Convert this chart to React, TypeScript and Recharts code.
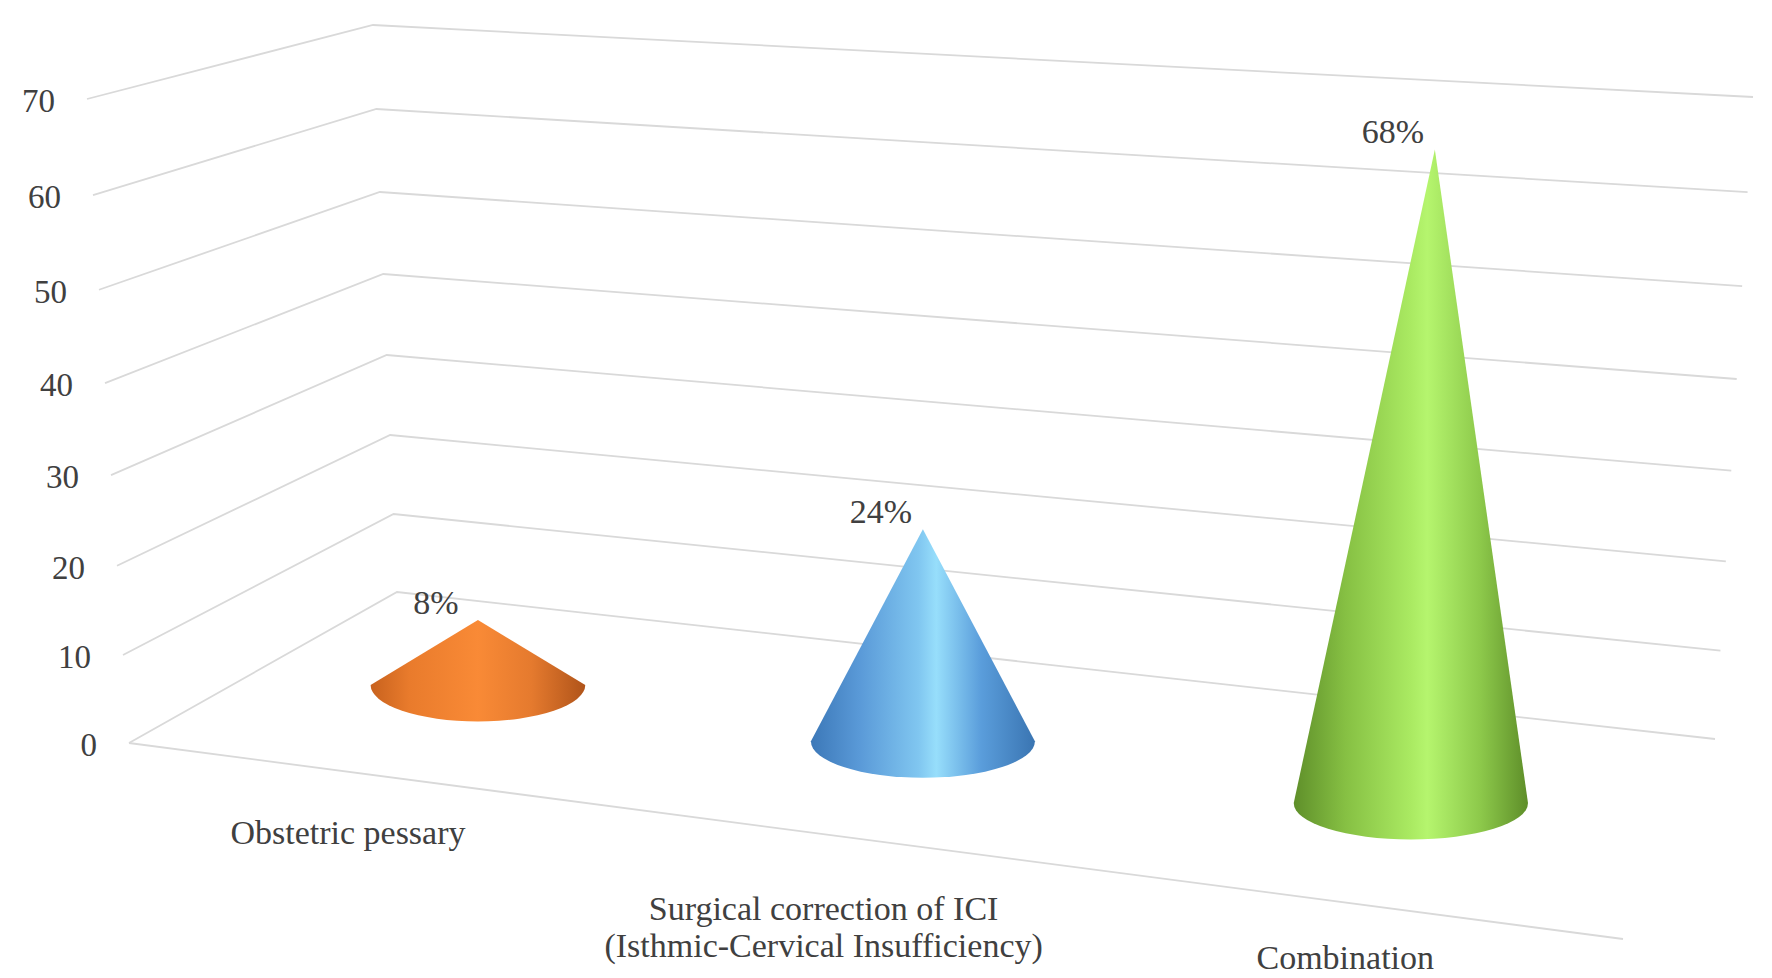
import { ComposedChart, Bar, XAxis, YAxis } from 'recharts';

const categories = [
  'Obstetric pessary',
  'Surgical correction of ICI (Isthmic-Cervical Insufficiency)',
  'Combination',
];
const shares = [8, 24, 68];
const yTicks = [0, 10, 20, 30, 40, 50, 60, 70];

const coneFills = ['url(#coneOrange)', 'url(#coneBlue)', 'url(#coneGreen)'];

const data = categories.map((name, i) => ({ name, value: shares[i] }));

const W = 1772;
const H = 978;
const TOP = 25;
const BOTTOM = 592;
const MARGIN = { top: TOP, right: 128, bottom: 0, left: 0 };
const AXIS_W = 245;
const AXIS_H = H - BOTTOM;
const FONT = '"Liberation Serif", "Times New Roman", serif';
const TEXT = '#404040';
const GRID = '#d9d9d9';

// flat band centre -> perspective screen x
const warpX = (x: number) => {
  const t = (x - 478.2) / 466.33;
  return (478 + 404.3 * t) / (1 - 0.04406 * t);
};

const WallTick = (props: any) => {
  const { y, payload } = props;
  const d = (BOTTOM - y) / (BOTTOM - TOP);
  const lx = 129 - 42 * d;
  const ly = 743 - 611 * d - 33 * d * d;
  const cx = 397 - 24 * d;
  const cy = 592 - 542.5 * d - 24.5 * d * d;
  const rx = 1715 + 38 * d;
  const ry = 739 - 614 * d - 28 * d * d;
  return (
    <g>
      <polyline
        points={`${lx},${ly} ${cx},${cy} ${rx},${ry}`}
        fill="none"
        stroke={GRID}
        strokeWidth={1.8}
      />
      {payload.value === 0 && (
        <line x1={lx} y1={ly} x2={1623} y2={939} stroke={GRID} strokeWidth={1.8} />
      )}
      <text
        x={lx - 32}
        y={ly + 13}
        textAnchor="end"
        fontSize={33}
        fontFamily={FONT}
        fill={TEXT}
      >
        {payload.value}
      </text>
    </g>
  );
};

const CategoryTick = (props: any) => {
  const { x, payload } = props;
  const cx = warpX(x);
  const lx = cx - 130 + 0.069 * (cx - 478);
  const base = 833 + 0.1248 * (lx - 346);
  const lines = String(payload.value).split(/ (?=\()/);
  const first = base + (lines.length - 1) * 16;
  return (
    <text textAnchor="middle" fontSize={34} fontFamily={FONT} fill={TEXT}>
      {lines.map((l, i) => (
        <tspan key={i} x={lx} y={first + i * 37 + 11}>
          {l}
        </tspan>
      ))}
    </text>
  );
};

const Cone = (props: any) => {
  const { x, width, height, index, payload } = props;
  const cx = warpX(x + width / 2);
  const baseY = 685 + 0.1265 * (cx - 478);
  const k = (8.83 + 0.0016 * (cx - 923)) / ((BOTTOM - TOP) / 70);
  const h = Math.abs(height) * k;
  const rx = 112 + 0.0105 * (cx - 923);
  const ry = 36.5;
  const ax = cx + 24 * Math.max(0, (cx - 923) / 488);
  const ay = baseY - h;
  return (
    <g>
      <path
        d={`M${cx - rx},${baseY} L${ax},${ay} L${cx + rx},${baseY} A${rx},${ry} 0 0 1 ${cx - rx},${baseY} Z`}
        fill={coneFills[index]}
      />
      <text
        x={ax - 42}
        y={ay - 6}
        textAnchor="middle"
        fontSize={34}
        fontFamily={FONT}
        fill={TEXT}
      >
        {payload.value}%
      </text>
    </g>
  );
};

const App = () => {
  return (
    <div style={{ position: 'absolute', left: 0, top: 0, width: W, height: H, background: '#fff' }}>
      <div style={{ position: 'absolute', left: 0, top: 0 }}>
        <ComposedChart width={W} height={H} data={data} margin={MARGIN}>
          <XAxis
            dataKey="name"
            height={AXIS_H}
            axisLine={false}
            tickLine={false}
            interval={0}
            tick={(p: any) => <CategoryTick {...p} />}
          />
          <YAxis
            type="number"
            domain={[0, 70]}
            ticks={yTicks}
            width={AXIS_W}
            axisLine={false}
            tickLine={false}
            tick={(p: any) => <WallTick {...p} />}
          />
          <Bar dataKey="value" fill="none" isAnimationActive={false} />
        </ComposedChart>
      </div>
      <div style={{ position: 'absolute', left: 0, top: 0 }}>
        <ComposedChart width={W} height={H} data={data} margin={MARGIN}>
          <defs>
            <linearGradient id="coneOrange" x1="0" y1="0" x2="1" y2="0">
              <stop offset="0" stopColor="#c8621e" />
              <stop offset="0.18" stopColor="#e97b2c" />
              <stop offset="0.5" stopColor="#f98a36" />
              <stop offset="0.75" stopColor="#e57a2e" />
              <stop offset="1" stopColor="#b0541a" />
            </linearGradient>
            <linearGradient id="coneBlue" x1="0" y1="0" x2="1" y2="0">
              <stop offset="0" stopColor="#3c78b8" />
              <stop offset="0.22" stopColor="#5a9ad8" />
              <stop offset="0.48" stopColor="#80c6f0" />
              <stop offset="0.56" stopColor="#97defb" />
              <stop offset="0.76" stopColor="#5a9ddb" />
              <stop offset="1" stopColor="#3a75b2" />
            </linearGradient>
            <linearGradient id="coneGreen" x1="0" y1="0" x2="1" y2="0">
              <stop offset="0" stopColor="#5f8f2a" />
              <stop offset="0.22" stopColor="#86c043" />
              <stop offset="0.5" stopColor="#aaea62" />
              <stop offset="0.57" stopColor="#b5f56e" />
              <stop offset="0.8" stopColor="#8cc84a" />
              <stop offset="1" stopColor="#5e8e29" />
            </linearGradient>
          </defs>
          <XAxis dataKey="name" height={AXIS_H} axisLine={false} tickLine={false} tick={false} />
          <YAxis
            type="number"
            domain={[0, 70]}
            ticks={yTicks}
            width={AXIS_W}
            axisLine={false}
            tickLine={false}
            tick={false}
          />
          <Bar dataKey="value" shape={(p: any) => <Cone {...p} />} isAnimationActive={false} />
        </ComposedChart>
      </div>
    </div>
  );
};

export default App;
